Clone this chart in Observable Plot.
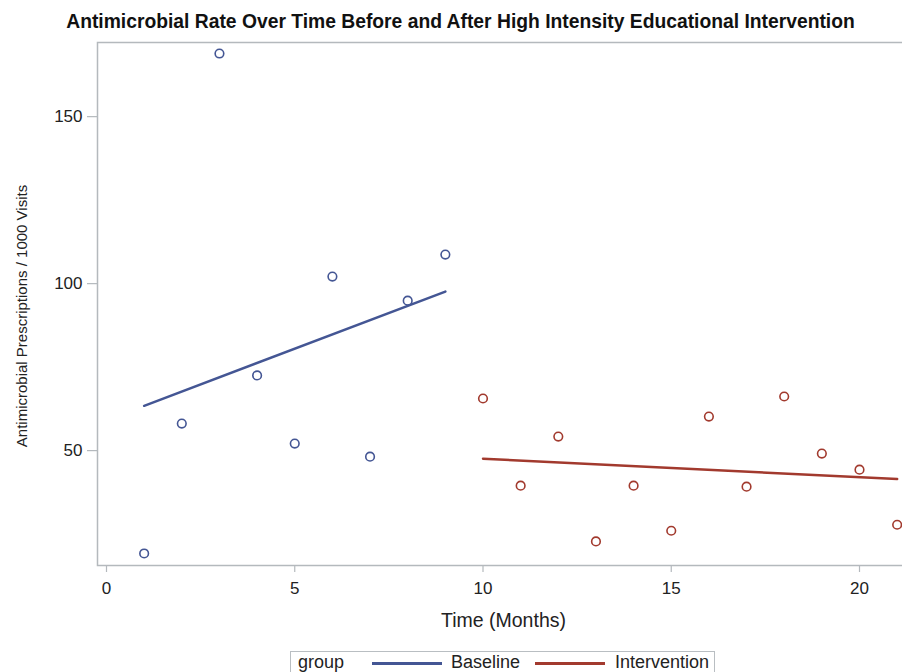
<!DOCTYPE html>
<html>
<head>
<meta charset="utf-8">
<script src="https://cdn.jsdelivr.net/npm/d3@7"></script>
<script src="https://cdn.jsdelivr.net/npm/@observablehq/plot@0.6"></script>
<style>
  html, body { margin: 0; padding: 0; background: #fff; overflow: hidden; width: 902px; height: 672px; }
  body { font-family: "Liberation Sans", Arial, sans-serif; color: #222; position: relative; }
  #title { position: absolute; left: 0; top: 0; width: 921px; text-align: center; font-weight: bold; font-size: 19.3px; line-height: 19px; padding-top: 12px; color: #111; white-space: nowrap; }
  #chart { position: absolute; left: 0; top: 32px; width: 910px; }
  #chart svg { max-width: none !important; }
  #ylabel { position: absolute; left: 22px; top: 316px; transform: translate(-50%, -50%) rotate(-90deg); font-size: 15px; white-space: nowrap; color: #222; line-height: 16px; }
  #legend { position: absolute; left: 290px; top: 651px; width: 425px; height: 30px; border: 1px solid #b9bec2; font-size: 18px; color: #222; box-sizing: border-box; }
  #legend .item { position: absolute; top: 0px; line-height: 20px; white-space: nowrap; }
  #legend .sw { position: absolute; top: 10px; height: 3px; width: 70px; }
</style>
</head>
<body>
<div id="title"></div>
<div id="chart"></div>
<div id="ylabel"></div>
<div id="legend"></div>
<script>
const titleText = "Antimicrobial Rate Over Time Before and After High Intensity Educational Intervention";
const xLabel = "Time (Months)";
const yLabel = "Antimicrobial Prescriptions / 1000 Visits";
const legendTitle = "group";
const groupNames = ["Baseline", "Intervention"];
const groupColors = ["#445694", "#a23a2e"];
const xTicks = [0, 5, 10, 15, 20];
const yTicks = [50, 100, 150];

const months = [1, 2, 3, 4, 5, 6, 7, 8, 9, 10, 11, 12, 13, 14, 15, 16, 17, 18, 19, 20, 21];
const rates = [19.2, 58.1, 168.9, 72.5, 52.1, 102.1, 48.2, 94.9, 108.7,
               65.6, 39.5, 54.2, 22.8, 39.5, 26.0, 60.2, 39.2, 66.2, 49.1, 44.3, 27.8];
const groupOf = [0, 0, 0, 0, 0, 0, 0, 0, 0, 1, 1, 1, 1, 1, 1, 1, 1, 1, 1, 1, 1];

const data = months.map((m, i) => ({month: m, rate: rates[i], group: groupNames[groupOf[i]]}));

document.getElementById("title").textContent = titleText;
document.getElementById("ylabel").textContent = yLabel;

const grey = "#b4b9bd";
const chart = Plot.plot({
  width: 910,
  height: 608,
  marginLeft: 97,
  marginRight: 1,
  marginTop: 10,
  marginBottom: 75,
  style: {fontFamily: "'Liberation Sans', Arial, sans-serif", fontSize: "17px", color: "#222", background: "transparent", maxWidth: "none"},
  x: {domain: [-0.239, 21.328]},
  y: {domain: [15.6, 172.2]},
  color: {domain: groupNames, range: groupColors},
  marks: [
    Plot.frame({stroke: grey, strokeWidth: 1.5}),
    Plot.axisX({ticks: xTicks, tickSize: 7, tickPadding: 9, stroke: grey, strokeWidth: 1.2, label: null, fontSize: 17}),
    Plot.axisY({ticks: yTicks, tickSize: 10, tickPadding: 5, stroke: grey, strokeWidth: 1.2, label: null, fontSize: 17}),
    Plot.text([xLabel], {frameAnchor: "bottom", dy: 55, fontSize: 19.5, fill: "#222", lineAnchor: "middle"}),
    Plot.linearRegressionY(data, {x: "month", y: "rate", stroke: "group", strokeWidth: 2.5, ci: 0}),
    Plot.dot(data, {x: "month", y: "rate", stroke: "group", r: 4.3, strokeWidth: 1.6, fill: "none"})
  ]
});
document.getElementById("chart").appendChild(chart);

const legend = document.getElementById("legend");
const legendItems = [
  {text: legendTitle, left: 7},
  {swatch: groupColors[0], left: 81},
  {text: groupNames[0], left: 160},
  {swatch: groupColors[1], left: 244},
  {text: groupNames[1], left: 324}
];
for (const it of legendItems) {
  const el = document.createElement("div");
  if (it.swatch) { el.className = "sw"; el.style.background = it.swatch; }
  else { el.className = "item"; el.textContent = it.text; }
  el.style.left = it.left + "px";
  legend.appendChild(el);
}
</script>
</body>
</html>
